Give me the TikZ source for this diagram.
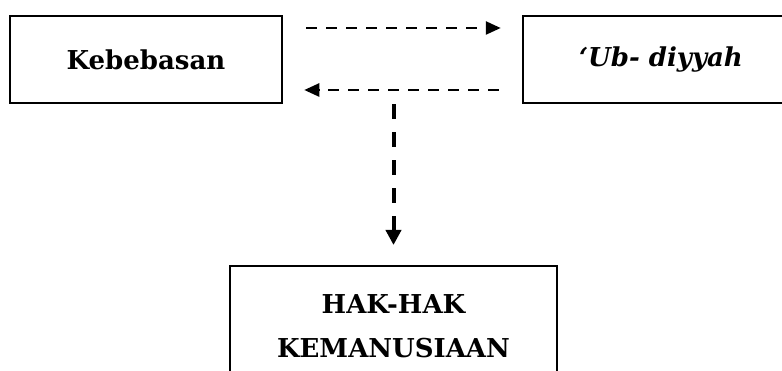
\documentclass[tikz,border=0pt]{standalone}
\usepackage{fontspec}
\setmainfont{DejaVu Serif}
\usetikzlibrary{positioning, arrows.meta}
\tikzset{
    boxnode/.style={rectangle, draw, line width=2.5pt, align=center, font=\fontsize{26}{30}\selectfont\bfseries},
    dasharrow/.style={line width=2.5pt, dash pattern=on 11pt off 9pt, -{Triangle[length=15pt, width=13pt]}},
    droparrow/.style={line width=4pt, dash pattern=on 15pt off 13pt, -{Triangle[length=15pt, width=15pt]}}
}

\begin{document}
\begin{tikzpicture}[x=1pt, y=-1pt]
    \path[use as bounding box] (0,0) rectangle (782,371);
    \node[boxnode, minimum width=272pt, minimum height=87pt] (keb) at (146,59.5) {Kebebasan};
    \node[boxnode, minimum width=276pt, minimum height=87pt] (ubu) at (661,59.5) {\itshape ‘Ub- diyyah};
    \node[boxnode, font=\fontsize{26}{44}\selectfont\bfseries, minimum width=327pt, minimum height=120pt, anchor=north] (hak) at (393.5,265) {HAK-HAK\\KEMANUSIAAN};
    % levels of the two horizontal arrows
    \coordinate (upper) at (0,28);
    \coordinate (lower) at (0,90);
    \draw[dasharrow, shorten <=23pt, shorten >=21pt] (keb.east |- upper) -- (ubu.west |- upper);
    \draw[dasharrow, shorten <=23pt, shorten >=21pt] (ubu.west |- lower) -- (keb.east |- lower);
    \draw[droparrow, shorten >=20pt] (hak.north |- keb.south) -- (hak.north);
\end{tikzpicture}
\end{document}
